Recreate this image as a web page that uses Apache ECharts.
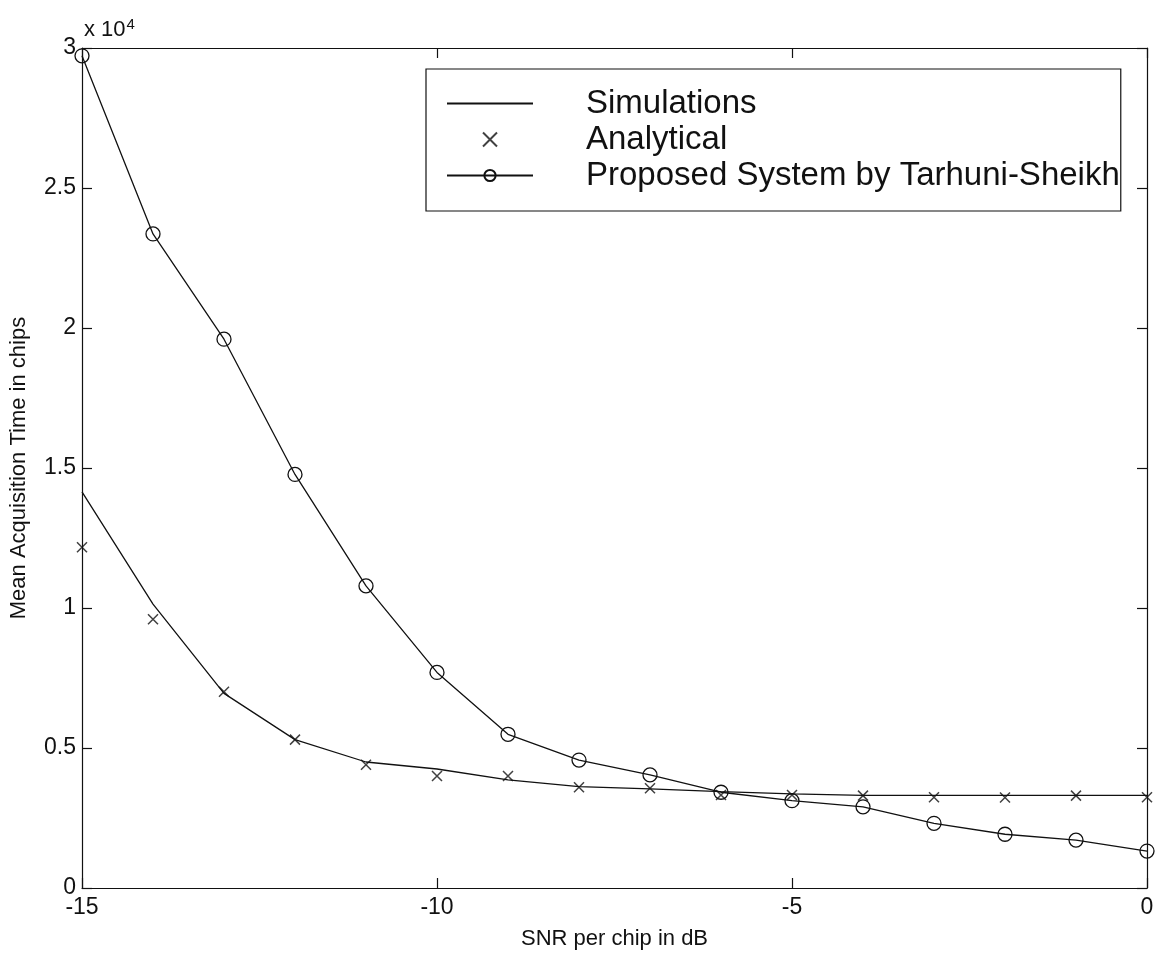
<!DOCTYPE html>
<html>
<head>
<meta charset="utf-8">
<script src="https://cdn.jsdelivr.net/npm/echarts@6/dist/echarts.min.js"></script>
<style>
  html, body { margin: 0; padding: 0; background: #fff; }
  #chart { width: 1163px; height: 956px; }
</style>
</head>
<body>
<div id="chart"></div>
<script>
// SNR per chip (dB)
const snrDb = [-15, -14, -13, -12, -11, -10, -9, -8, -7, -6, -5, -4, -3, -2, -1, 0];
// Mean acquisition time in chips
const simulations = [14150, 10140, 6950, 5300, 4500, 4250, 3860, 3620, 3540, 3440, 3360, 3310, 3310, 3310, 3310, 3310];
const analytical  = [12170, 9600, 7010, 5300, 4400, 4000, 4000, 3600, 3560, 3320, 3320, 3300, 3240, 3230, 3300, 3240];
const proposed    = [29720, 23360, 19600, 14770, 10790, 7700, 5490, 4570, 4040, 3420, 3120, 2900, 2310, 1920, 1710, 1320];
const xTicks = [-15, -10, -5, 0];
const yTicks = [0, 5000, 10000, 15000, 20000, 25000, 30000];
const seriesNames = ['Simulations', 'Analytical', 'Proposed System by Tarhuni-Sheikh'];

const pairs = ys => snrDb.map((x, i) => [x, ys[i]]);
const FONT = '"Liberation Sans", Arial, sans-serif';
const INK = '#111';
const crossPath = 'path://M0,0L10,10M10,0L0,10';

const chart = echarts.init(document.getElementById('chart'), null, { renderer: 'canvas' });

const baseX = {
  type: 'value', min: xTicks[0], max: xTicks[xTicks.length - 1], interval: 5,
  splitLine: { show: false },
  axisLine: { onZero: false, lineStyle: { color: INK, width: 1.2 } },
  axisTick: { inside: true, length: 10, lineStyle: { color: INK, width: 1.2 } }
};
const baseY = {
  type: 'value', min: yTicks[0], max: yTicks[yTicks.length - 1], interval: 5000,
  splitLine: { show: false },
  axisLine: { onZero: false, lineStyle: { color: INK, width: 1.2 } },
  axisTick: { inside: true, length: 10, lineStyle: { color: INK, width: 1.2 } }
};

chart.setOption({
  backgroundColor: '#fff',
  animation: false,
  textStyle: { fontFamily: FONT, color: INK },
  grid: { left: 82, right: 16, top: 48, bottom: 68, containLabel: false },
  xAxis: [
    Object.assign({}, baseX, {
      position: 'bottom',
      name: 'SNR per chip in dB', nameLocation: 'middle', nameGap: 40,
      nameTextStyle: { fontSize: 22, fontFamily: FONT, color: INK },
      axisLabel: { fontSize: 23, fontFamily: FONT, color: INK, margin: 8,
        formatter: v => String(v) }
    }),
    Object.assign({}, baseX, { position: 'top', axisLabel: { show: false } })
  ],
  yAxis: [
    Object.assign({}, baseY, {
      position: 'left',
      name: 'Mean Acquisition Time in chips', nameLocation: 'middle', nameGap: 52,
      nameRotate: 90,
      nameTextStyle: { fontSize: 22, fontFamily: FONT, color: INK },
      axisLabel: { fontSize: 23, fontFamily: FONT, color: INK, margin: 6,
        formatter: v => String(v / 10000) }
    }),
    Object.assign({}, baseY, { position: 'right', axisLabel: { show: false } })
  ],
  legend: {
    orient: 'vertical', left: 426, top: 69,
    padding: [17, 1, 18, 20], itemGap: 1, itemWidth: 86, itemHeight: 14,
    backgroundColor: '#fff', borderColor: INK, borderWidth: 1.2, borderRadius: 0,
    data: [
      { name: seriesNames[0], itemStyle: { color: 'transparent', borderWidth: 0, opacity: 0 } },
      { name: seriesNames[1] },
      { name: seriesNames[2] }
    ],
    textStyle: { fontSize: 33, lineHeight: 35, fontFamily: FONT, color: INK, padding: [0, 0, 0, 48] }
  },
  graphic: [{
    type: 'text', left: 84, top: 17,
    style: {
      text: 'x 10{sup|4}', fontSize: 22, fontFamily: FONT, fill: INK,
      rich: { sup: { fontSize: 15, verticalAlign: 'top', padding: [0, 0, 10, 1], fontFamily: FONT } }
    }
  }],
  series: [
    {
      name: seriesNames[0], type: 'line', data: pairs(simulations),
      showSymbol: false, symbol: 'none',
      lineStyle: { color: INK, width: 1.3 }, itemStyle: { color: INK }
    },
    {
      name: seriesNames[1], type: 'scatter', data: pairs(analytical),
      symbol: crossPath, symbolSize: 10,
      itemStyle: { color: 'none', borderColor: INK, borderWidth: 1.5 }
    },
    {
      name: seriesNames[2], type: 'line', data: pairs(proposed),
      symbol: 'circle', symbolSize: 14, showSymbol: true,
      lineStyle: { color: INK, width: 1.3 },
      itemStyle: { color: 'transparent', borderColor: INK, borderWidth: 1.3 }
    }
  ]
});
</script>
</body>
</html>
